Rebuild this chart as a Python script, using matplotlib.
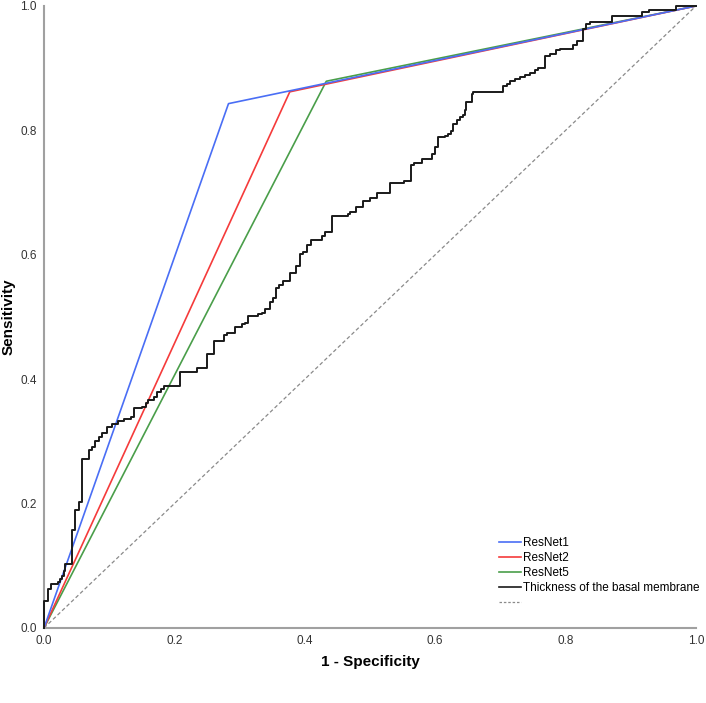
import matplotlib
matplotlib.use("Agg")
import matplotlib.pyplot as plt
from matplotlib.lines import Line2D

plt.rcParams['font.family'] = ['Liberation Sans', 'DejaVu Sans']

# ROC points (1 - specificity, sensitivity)
resnet1_fpr = [0.0, 0.283, 1.0]
resnet1_tpr = [0.0, 0.843, 1.0]
resnet2_fpr = [0.0, 0.377, 1.0]
resnet2_tpr = [0.0, 0.862, 1.0]
resnet5_fpr = [0.0, 0.433, 1.0]
resnet5_tpr = [0.0, 0.879, 1.0]

# Thickness of the basal membrane: step corners (x of riser, y at top of riser)
thick_fpr = [0.0, 0.0, 0.006, 0.011, 0.022, 0.025, 0.027, 0.030, 0.032, 0.043,
             0.048, 0.053, 0.058, 0.069, 0.073, 0.078, 0.084, 0.089, 0.096, 0.105,
             0.114, 0.123, 0.133, 0.138, 0.151, 0.156, 0.160, 0.169, 0.174, 0.179,
             0.184, 0.208, 0.234, 0.250, 0.261, 0.276, 0.280, 0.293, 0.303, 0.308,
             0.313, 0.329, 0.334, 0.339, 0.346, 0.351, 0.356, 0.361, 0.366, 0.377,
             0.387, 0.393, 0.398, 0.403, 0.409, 0.426, 0.431, 0.441, 0.467, 0.469,
             0.479, 0.489, 0.500, 0.511, 0.531, 0.552, 0.563, 0.568, 0.580, 0.595,
             0.600, 0.605, 0.615, 0.620, 0.625, 0.628, 0.633, 0.638, 0.643, 0.646,
             0.648, 0.656, 0.658, 0.704, 0.710, 0.715, 0.722, 0.730, 0.738, 0.745,
             0.753, 0.758, 0.768, 0.776, 0.785, 0.791, 0.812, 0.817, 0.827, 0.831,
             0.837, 0.871, 0.917, 0.928, 0.970, 1.0]
thick_tpr = [0.0, 0.044, 0.062, 0.070, 0.074, 0.078, 0.084, 0.092, 0.103, 0.157,
             0.190, 0.202, 0.271, 0.286, 0.291, 0.301, 0.307, 0.314, 0.323, 0.328,
             0.332, 0.336, 0.339, 0.353, 0.356, 0.361, 0.367, 0.372, 0.379, 0.385,
             0.389, 0.411, 0.418, 0.441, 0.461, 0.471, 0.474, 0.484, 0.488, 0.491,
             0.502, 0.505, 0.507, 0.513, 0.524, 0.531, 0.546, 0.551, 0.558, 0.571,
             0.582, 0.601, 0.605, 0.616, 0.623, 0.630, 0.636, 0.663, 0.666, 0.669,
             0.677, 0.686, 0.692, 0.700, 0.715, 0.718, 0.745, 0.748, 0.754, 0.762,
             0.773, 0.789, 0.791, 0.794, 0.799, 0.810, 0.817, 0.822, 0.824, 0.833,
             0.845, 0.858, 0.862, 0.871, 0.874, 0.879, 0.882, 0.886, 0.889, 0.892,
             0.897, 0.901, 0.920, 0.923, 0.930, 0.931, 0.937, 0.944, 0.963, 0.971,
             0.975, 0.984, 0.990, 0.994, 1.0, 1.0]

ref_line = [0.0, 1.0]
ticks = [0.0, 0.2, 0.4, 0.6, 0.8, 1.0]
tick_labels = ["0.0", "0.2", "0.4", "0.6", "0.8", "1.0"]
legend_labels = ["ResNet1", "ResNet2", "ResNet5", "Thickness of the basal membrane", ""]

fig = plt.figure(figsize=(7.06, 7.03), dpi=100)
ax = fig.add_axes([0.0623, 0.1067, 0.9235, 0.8848])

c_blue = '#4a6ef5'
c_red = '#f53b3b'
c_green = '#4a9e4a'

ax.plot(ref_line, ref_line, color='#8a8a8a', lw=0.9, ls=(0, (3, 2)), clip_on=False, zorder=1)
ax.plot(thick_fpr, thick_tpr, color='#1a1a1a', lw=1.4, drawstyle='steps-post', clip_on=False, zorder=3)
ax.plot(resnet5_fpr, resnet5_tpr, color=c_green, lw=1.2, clip_on=False, zorder=2)
ax.plot(resnet2_fpr, resnet2_tpr, color=c_red, lw=1.2, clip_on=False, zorder=2)
ax.plot(resnet1_fpr, resnet1_tpr, color=c_blue, lw=1.2, clip_on=False, zorder=2)

ax.set_xlim(0, 1)
ax.set_ylim(0, 1)
ax.set_xticks(ticks)
ax.set_xticklabels(tick_labels)
ax.set_yticks(ticks)
ax.set_yticklabels(tick_labels)
ax.tick_params(length=0, labelsize=8.5, colors='#333333', pad=5)
for s in ['top', 'right']:
    ax.spines[s].set_visible(False)
for s in ['left', 'bottom']:
    ax.spines[s].set_color('#a0a0a0')
    ax.spines[s].set_linewidth(1.5)

ax.set_xlabel("1 - Specificity", fontsize=11, fontweight='bold')
ax.set_ylabel("Sensitivity", fontsize=11, fontweight='bold')
ax.xaxis.set_label_coords(0.5, -0.044)
ax.yaxis.set_label_coords(-0.044, 0.5)

handles = [Line2D([], [], color=c_blue, lw=1.2),
           Line2D([], [], color=c_red, lw=1.2),
           Line2D([], [], color=c_green, lw=1.2),
           Line2D([], [], color='#1a1a1a', lw=1.2),
           Line2D([], [], color='#8a8a8a', lw=0.9, ls=(0, (2, 1.5)))]
leg = ax.legend(handles, legend_labels, loc='lower left', bbox_to_anchor=(0.69, 0.022),
                frameon=False, fontsize=8.5, handlelength=1.9, handletextpad=0.15,
                labelspacing=0.27, borderaxespad=0)

fig.savefig("out.png", dpi=100)
